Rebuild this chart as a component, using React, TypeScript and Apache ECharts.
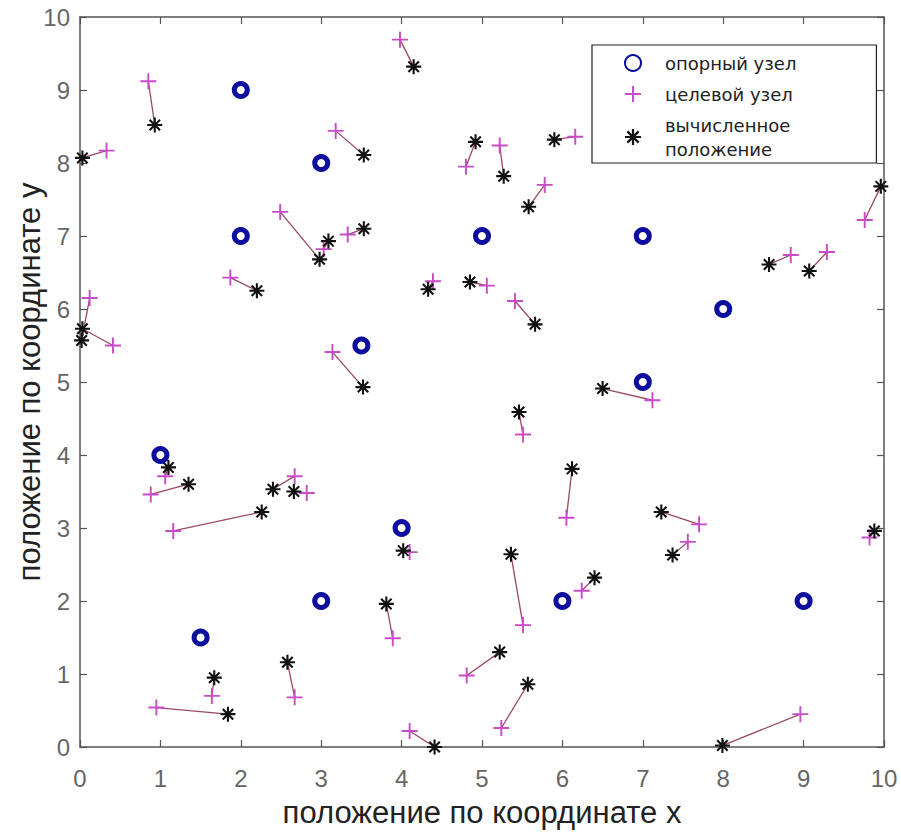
import React, { useEffect, useRef } from "react";
import * as echarts from "echarts";

// Anchor (reference) nodes
const anchorX = [2, 3, 2, 3.5, 5, 7, 8, 7, 1, 4, 3, 6, 9, 1.5];
const anchorY = [9, 8, 7, 5.5, 7, 7, 6, 5, 4, 3, 2, 2, 2, 1.5];

// Target nodes (true positions)
const targetX = [3.98, 0.85, 0.33, 3.18, 2.49, 3.03, 3.33, 1.87, 0.12, 0.41, 4.39, 5.06, 4.80, 5.22, 5.78, 6.16, 9.76, 8.84, 9.29, 5.41, 3.14, 1.06, 0.88, 1.16, 2.67, 2.82, 4.10, 3.89, 2.67, 1.64, 0.95, 4.10, 4.81, 5.24, 8.96, 7.12, 5.51, 6.05, 7.70, 7.56, 9.82, 5.51, 6.24];
const targetY = [9.69, 9.12, 8.17, 8.44, 7.33, 6.82, 7.02, 6.43, 6.15, 5.50, 6.38, 6.32, 7.95, 8.24, 7.70, 8.36, 7.22, 6.74, 6.78, 6.11, 5.41, 3.71, 3.46, 2.96, 3.71, 3.48, 2.67, 1.49, 0.68, 0.70, 0.54, 0.22, 0.98, 0.26, 0.45, 4.75, 4.28, 3.14, 3.05, 2.81, 2.87, 1.67, 2.14];

// Estimated (computed) positions
const estX = [4.15, 0.93, 0.03, 3.53, 2.98, 3.09, 3.53, 2.20, 0.02, 0.03, 4.33, 4.85, 4.92, 5.27, 5.58, 5.90, 9.96, 8.57, 9.07, 5.66, 3.52, 1.10, 1.35, 2.26, 2.40, 2.66, 4.02, 3.81, 2.58, 1.67, 1.84, 4.41, 5.22, 5.57, 7.99, 6.50, 5.46, 6.12, 7.23, 7.37, 9.88, 5.36, 6.40];
const estY = [9.32, 8.52, 8.07, 8.11, 6.68, 6.93, 7.10, 6.25, 5.57, 5.73, 6.27, 6.37, 8.29, 7.82, 7.40, 8.32, 7.68, 6.61, 6.52, 5.79, 4.93, 3.83, 3.60, 3.22, 3.53, 3.50, 2.69, 1.96, 1.16, 0.95, 0.45, 0.0, 1.30, 0.86, 0.02, 4.91, 4.59, 3.81, 3.22, 2.63, 2.96, 2.64, 2.32];

const xTicks = [0, 1, 2, 3, 4, 5, 6, 7, 8, 9, 10];
const yTicks = [0, 1, 2, 3, 4, 5, 6, 7, 8, 9, 10];

const NAME_ANCHOR = "опорный узел";
const NAME_TARGET = "целевой узел";
const NAME_EST = "вычисленное\nположение";

const PLUS_PATH = "path://M4.4,0H5.6V10H4.4Z M0,4.4H10V5.6H0Z";
const STAR_PATH =
  "path://M4.3,0H5.7V10H4.3Z M0,4.3H10V5.7H0Z M1.99,1.01L8.99,8.01L8.01,8.99L1.01,1.99Z M8.01,1.01L8.99,1.99L1.99,8.99L1.01,8.01Z";

export default function App() {
  const ref = useRef<HTMLDivElement>(null);

  useEffect(() => {
    if (!ref.current) return;
    const chart = echarts.init(ref.current, undefined, { renderer: "svg" });

    const axisColor = "#555";
    const labelColor = "#666";
    const baseX = {
      type: "value" as const,
      min: xTicks[0],
      max: xTicks[xTicks.length - 1],
      interval: 1,
      splitLine: { show: false },
      axisLine: { show: true, onZero: false, lineStyle: { color: axisColor, width: 1.5 } },
      axisTick: { show: true, inside: true, length: 7, lineStyle: { color: axisColor, width: 1.2 } },
    };
    const baseY = {
      type: "value" as const,
      min: yTicks[0],
      max: yTicks[yTicks.length - 1],
      interval: 1,
      splitLine: { show: false },
      axisLine: { show: true, onZero: false, lineStyle: { color: axisColor, width: 1.5 } },
      axisTick: { show: true, inside: true, length: 7, lineStyle: { color: axisColor, width: 1.2 } },
    };

    const option = {
      animation: false,
      backgroundColor: "#ffffff",
      grid: { left: 80, top: 17, width: 804, height: 730, outerBoundsMode: "none", containLabel: false },
      xAxis: [
        {
          ...baseX,
          position: "bottom",
          axisLabel: { color: labelColor, fontSize: 24, margin: 19, fontFamily: "Liberation Sans" },
          name: "положение по координате x",
          nameLocation: "middle",
          nameGap: 50,
          nameMoveOverlap: false,
          nameTextStyle: { color: "#222", fontSize: 31, fontFamily: "Liberation Sans" },
        },
        { ...baseX, position: "top", axisLabel: { show: false } },
      ],
      yAxis: [
        {
          ...baseY,
          position: "left",
          axisLabel: { color: labelColor, fontSize: 24, margin: 10, fontFamily: "Liberation Sans" },
          name: "положение по координате y",
          nameLocation: "middle",
          nameGap: 35,
          nameMoveOverlap: false,
          nameTextStyle: { color: "#222", fontSize: 31, fontFamily: "Liberation Sans" },
        },
        { ...baseY, position: "right", axisLabel: { show: false } },
      ],
      legend: {
        data: [NAME_ANCHOR, NAME_TARGET, NAME_EST],
        orient: "vertical",
        left: 592,
        top: 45,
        padding: [6, 80, 2, 32],
        itemGap: 7,
        itemWidth: 16,
        itemHeight: 16,
        backgroundColor: "#fff",
        borderColor: "#222",
        borderWidth: 1.2,
        borderRadius: 0,
        textStyle: {
          color: "#222",
          fontSize: 18,
          lineHeight: 24,
          fontFamily: "DejaVu Sans",
          padding: [0, 0, 0, 19],
        },
      },
      series: [
        {
          name: "links",
          type: "lines",
          coordinateSystem: "cartesian2d",
          polyline: false,
          silent: true,
          z: 1,
          lineStyle: { color: "#9a4a62", width: 1.3, opacity: 1 },
          data: targetX.map((tx, i) => ({
            coords: [
              [tx, targetY[i]],
              [estX[i], estY[i]],
            ],
          })),
        },
        {
          name: NAME_ANCHOR,
          type: "scatter",
          z: 3,
          symbol: "circle",
          symbolSize: 13,
          itemStyle: { color: "#ffffff", borderColor: "#0d0d9e", borderWidth: 5, opacity: 1 },
          data: anchorX.map((x, i) => [x, anchorY[i]]),
        },
        {
          name: NAME_TARGET,
          type: "scatter",
          z: 2,
          symbol: PLUS_PATH,
          symbolSize: 16,
          itemStyle: { color: "#c84cc8", opacity: 1 },
          data: targetX.map((x, i) => [x, targetY[i]]),
        },
        {
          name: NAME_EST,
          type: "scatter",
          z: 2,
          symbol: STAR_PATH,
          symbolSize: 15,
          itemStyle: { color: "#111111", opacity: 1 },
          data: estX.map((x, i) => [x, estY[i]]),
        },
      ],
    };

    chart.setOption(option as any);
    return () => chart.dispose();
  }, []);

  return (
    <div
      ref={ref}
      style={{ position: "fixed", left: 0, top: 0, width: 901, height: 832, background: "#fff" }}
    />
  );
}
